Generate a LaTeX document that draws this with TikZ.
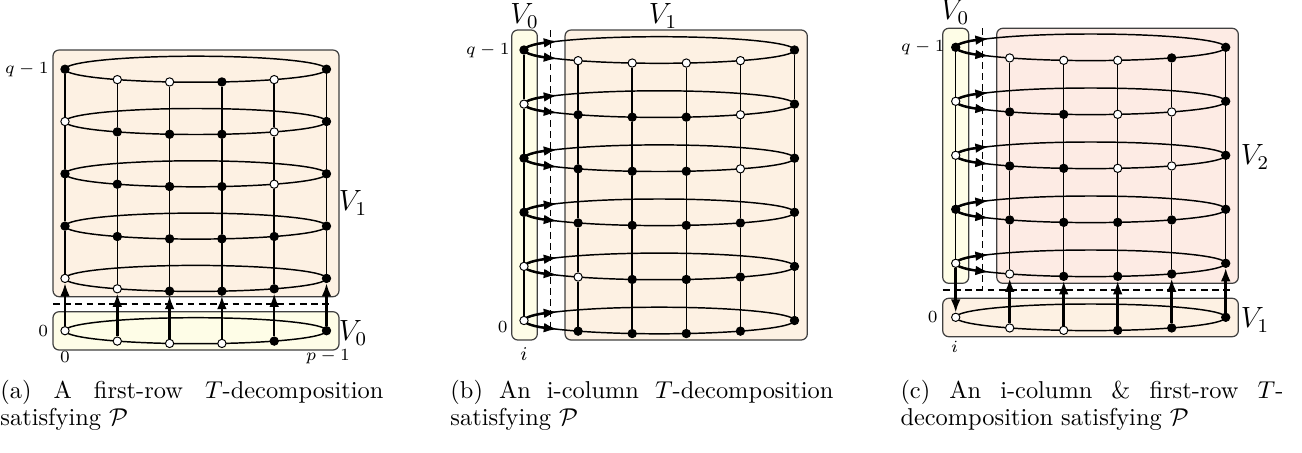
\documentclass[tikz,border=0pt]{standalone}
\usetikzlibrary{arrows.meta,backgrounds}

\definecolor{rowfill}{RGB}{253,241,227}
\definecolor{colfill}{RGB}{254,253,231}
\definecolor{restfill}{RGB}{253,235,228}

\tikzset{
  vb/.style={circle,draw,fill=black,inner sep=0pt,minimum size=3.4pt,line width=0.4pt},
  vw/.style={vb,fill=white},
  part/.style={draw=black!75,line width=0.5pt,rounded corners=2.5pt},
  cyc/.style={line width=0.6pt},
  lift/.style={line width=1pt,-{Latex[length=5.5pt,width=4pt]}},
  cut/.style={line width=0.5pt,dash pattern=on 2.8pt off 1.8pt},
  lab/.style={font=\scriptsize,inner sep=0pt},
  setlab/.style={font=\large,inner sep=0pt},
  capt/.style={text width=157pt,align=justify,inner sep=0pt,anchor=north west,
    font=\fontsize{10}{11}\selectfont,
    execute at begin node={\tolerance=10000 \hbadness=10000 }}
}

\begin{document}
\begin{tikzpicture}[x=0.41pt,y=-0.41pt]
\useasboundingbox (0,0) rectangle (1302,452);

% -----------------------------
% (a) first-row decomposition
% -----------------------------
\foreach \r/\row in {0/{w,w,w,w,b,b},1/{w,w,b,b,b,b},2/{b,b,b,b,b,b},
                     3/{b,b,b,b,w,b},4/{w,b,b,b,w,b},5/{b,w,w,b,w,b}} {
  \foreach \s [count=\c from 0] in \row {
    \pgfmathsetmacro\xx{65+52.3*\c}
    \pgfmathsetmacro\yy{330.7-52.3*\r+13*sqrt(max(0,1-((\xx-195.75)/130.75)^2))}
    \node[v\s] (a-\c-\r) at (\xx,\yy) {};
  }
}

\begin{scope}[on background layer]
  \draw[part,fill=rowfill] (53,50) rectangle (339,296.7);    % V1
  \draw[part,fill=colfill] (53,311.7) rectangle (339,350);   % V0
  \foreach \r in {0,...,5}
    \draw[cyc] (195.75,{330.7-52.3*\r}) ellipse [x radius=130.75,y radius=13];
\end{scope}

\foreach \c in {0,...,5} {
  \foreach \r [evaluate=\r as \rr using int(\r+1)] in {1,...,4}
    \draw[cyc] (a-\c-\r) -- (a-\c-\rr);
  \draw[lift] (a-\c-0) -- (a-\c-1);
}
\draw[cut] (53,304) -- (333,304);

\node[lab,anchor=east] (a-top) at (49,69.2) {$q-1$};
\node[lab,anchor=east] (a-bot) at (48.5,330.7) {$0$};
\node[lab] (a-first) at (65,357) {$0$};
\node[lab] (a-last) at (328,357) {$p-1$};
\node[setlab] (a-V1) at (353,203) {$V_1$};
\node[setlab] (a-V0) at (353,333) {$V_0$};

% -----------------------------
% (b) i-column decomposition
% -----------------------------
\foreach \r/\row in {0/{w,b,b,b,b,b},1/{w,w,b,b,b,b},2/{b,b,b,b,b,b},
                     3/{b,b,b,b,w,b},4/{w,b,b,b,w,b},5/{b,w,w,w,w,b}} {
  \foreach \s [count=\c from 0] in \row {
    \pgfmathsetmacro\xx{524+54.1*\c}
    \pgfmathsetmacro\yy{320.5-54.1*\r+13.3*sqrt(max(0,1-((\xx-659.25)/135.25)^2))}
    \node[v\s] (b-\c-\r) at (\xx,\yy) {};
  }
}

\begin{scope}[on background layer]
  \draw[part,fill=colfill] (511.7,30) rectangle (537.3,340);  % V0
  \draw[part,fill=rowfill] (565,30) rectangle (807.3,340);    % V1
  \foreach \r in {0,...,5} {
    \draw[cyc] (659.25,{320.5-54.1*\r}) ellipse [x radius=135.25,y radius=13.3];
    \draw[lift] (b-0-\r.center) arc[start angle=180,end angle=139,x radius=135.25,y radius=13.3];
    \draw[lift] (b-0-\r.center) arc[start angle=180,end angle=221,x radius=135.25,y radius=13.3];
  }
\end{scope}

\foreach \k in {0,...,5} {
  \foreach \j [evaluate=\j as \jj using int(\j+1)] in {0,...,4} {
    \draw[cyc] (b-\k-\j) -- (b-\k-\jj);
  }
}
\draw[cut] (550.7,30) -- (550.7,332);

\node[setlab] (b-V0) at (524.5,16) {$V_0$};
\node[setlab] (b-V1) at (663,16) {$V_1$};
\node[lab,anchor=east] (b-top) at (510,51) {$q-1$};
\node[lab,anchor=east] (b-bot) at (508,327) {$0$};
\node[font=\footnotesize,inner sep=0pt] (b-i) at (524,354) {$i$};

% -----------------------------
% (c) i-column & first-row
% -----------------------------
\foreach \r/\row in {0/{w,w,w,b,b,b},1/{w,w,b,b,b,b},2/{b,b,b,b,b,b},
                     3/{w,b,b,w,w,b},4/{w,b,b,w,w,b},5/{b,w,w,w,b,b}} {
  \foreach \s [count=\c from 0] in \row {
    \pgfmathsetmacro\xx{955.7+54*\c}
    \pgfmathsetmacro\yy{317.3-54*\r+13.3*sqrt(max(0,1-((\xx-1090.7)/135)^2))}
    \node[v\s] (c-\c-\r) at (\xx,\yy) {};
  }
}

\begin{scope}[on background layer]
  \draw[part,fill=colfill] (942.7,28.3) rectangle (968.7,283.3);     % V0
  \draw[part,fill=restfill] (996.7,28.3) rectangle (1238.3,283.3);   % V2
  \draw[part,fill=rowfill] (942.7,298.3) rectangle (1238.3,336.7);   % V1
  \draw[cyc] (1090.7,317.3) ellipse [x radius=135,y radius=13.3];
  \foreach \r in {1,...,5} {
    \draw[cyc] (1090.7,{317.3-54*\r}) ellipse [x radius=135,y radius=13.3];
    \draw[lift] (c-0-\r.center) arc[start angle=180,end angle=139,x radius=135,y radius=13.3];
    \draw[lift] (c-0-\r.center) arc[start angle=180,end angle=221,x radius=135,y radius=13.3];
  }
\end{scope}

\foreach \k in {0,...,5} {
  \foreach \j [evaluate=\j as \jj using int(\j+1)] in {1,...,4} {
    \draw[cyc] (c-\k-\j) -- (c-\k-\jj);
  }
}
\foreach \k in {1,...,5} {
  \draw[lift] (c-\k-0) -- (c-\k-1);
}
\draw[lift] (c-0-1) -- (c-0-0);
\draw[cut] (942.7,290) -- (1231.7,290);
\draw[cut] (982.7,28.3) -- (982.7,290);

\node[setlab] (c-V0) at (955,12) {$V_0$};
\node[lab,anchor=east] (c-top) at (945,48) {$q-1$};
\node[setlab] (c-V2) at (1255,157) {$V_2$};
\node[setlab] (c-V1) at (1255,320) {$V_1$};
\node[lab,anchor=east] (c-bot) at (938,317) {$0$};
\node[lab] (c-i) at (954.5,347) {$i$};

% captions
\node[capt] (cap-a) at (0,380) {(a) A first-row $T$-decomposition\linebreak satisfying $\mathcal{P}$};
\node[capt] (cap-b) at (450,380) {(b) An i-column $T$-decomposition\linebreak satisfying $\mathcal{P}$};
\node[capt] (cap-c) at (900,380) {(c) An i-column \& first-row $T$-\linebreak decomposition satisfying $\mathcal{P}$};

\end{tikzpicture}
\end{document}
